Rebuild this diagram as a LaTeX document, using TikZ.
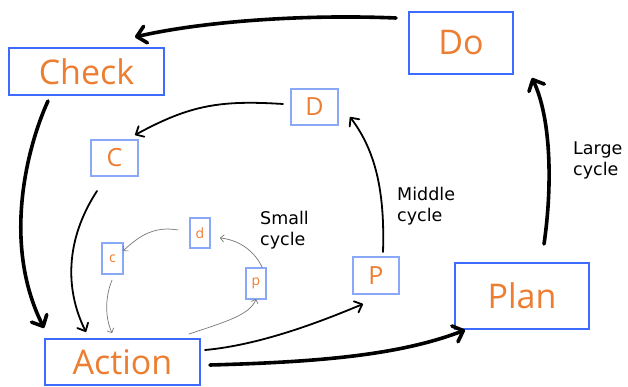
\documentclass[tikz,border=0pt]{standalone}
\usepackage{fontspec}
\setmainfont{DejaVu Sans}
\newfontfamily\boxfont{Open Sans}
\usetikzlibrary{arrows.meta}
\definecolor{txtorange}{RGB}{237,125,49}
\definecolor{bigblue}{RGB}{61,107,255}
\definecolor{midblue}{RGB}{138,168,248}
\definecolor{thingray}{RGB}{120,120,120}
\tikzset{
  bigbox/.style={draw=bigblue, line width=2.4pt, inner sep=0pt, text=txtorange, font=\boxfont\fontsize{34}{34}\selectfont},
  midbox/.style={draw=midblue, line width=2pt, inner sep=0pt, text=txtorange, font=\boxfont\fontsize{25}{25}\selectfont},
  smallbox/.style={draw=midblue, line width=1.2pt, inner sep=0pt, text=txtorange, font=\boxfont\fontsize{14}{14}\selectfont},
  bigarrow/.style={line width=3.6pt, line cap=round, -{Straight Barb[length=9pt,width=17pt,round]}},
  midarrow/.style={line width=1.8pt, line cap=round, -{Straight Barb[length=6.5pt,width=12pt,round]}},
  thinarrow/.style={line width=0.7pt, draw=thingray, line cap=round, -{Straight Barb[length=3.5pt,width=7pt,round]}},
  cyclelabel/.style={anchor=north west, inner sep=0pt, align=left, font=\fontsize{17.5}{21}\selectfont}
}
\begin{document}
\begin{tikzpicture}[x=1pt,y=-1pt]
\useasboundingbox[fill=white] (0,0) rectangle (628,387);
% large
\node[bigbox, minimum width=104pt, minimum height=62pt] (Do) at (461,43) {Do};
\node[bigbox, minimum width=155pt, minimum height=47pt] (Check) at (86.5,71.5) {Check};
\node[bigbox, minimum width=134pt, minimum height=66pt] (Plan) at (522,296) {Plan};
\node[bigbox, minimum width=155pt, minimum height=46pt] (Action) at (122.5,362) {Action};
% middle
\node[midbox, minimum width=47pt, minimum height=36pt] (D) at (314.5,107) {D};
\node[midbox, minimum width=47pt, minimum height=36pt] (C) at (114.5,158) {C};
\node[midbox, minimum width=46pt, minimum height=37pt] (P) at (376,275.5) {P};
% small
\node[smallbox, minimum width=20pt, minimum height=30pt] (d) at (200,233) {d};
\node[smallbox, minimum width=21pt, minimum height=31pt] (c) at (112.5,258.5) {c};
\node[smallbox, minimum width=20pt, minimum height=31pt] (p) at (256,283.5) {p};
% labels
\node[cyclelabel] (Llab) at (573,142) {Large\\cycle};
\node[cyclelabel] (Mlab) at (397,187) {Middle\\cycle};
\node[cyclelabel] (Slab) at (260,211) {Small\\cycle};
% large cycle
\draw[bigarrow] ([shift={(-65,-25)}]Do.center) .. controls (300,14) and (200,22) .. ([shift={(48.5,-34.5)}]Check.center);
\draw[bigarrow] ([shift={(-38.5,29.5)}]Check.center) .. controls (30,140) and (0,240) .. ([shift={(-78.5,-34)}]Action.center);
\draw[bigarrow] ([shift={(87.5,3)}]Action.center) .. controls (320,362) and (400,355) .. ([shift={(-57,34)}]Plan.center);
\draw[bigarrow] ([shift={(22,-52)}]Plan.center) .. controls (552,190) and (552,120) .. ([shift={(71,35)}]Do.center);
% middle cycle
\draw[midarrow] ([shift={(-31.5,-3)}]D.center) .. controls (220,100) and (190,105) .. ([shift={(20.5,-23)}]C.center);
\draw[midarrow] ([shift={(-17.5,33)}]C.center) .. controls (65,240) and (65,290) .. ([shift={(-36.5,-30)}]Action.center);
\draw[midarrow] ([shift={(82.5,-12)}]Action.center) .. controls (260,345) and (320,322) .. ([shift={(-13,28.5)}]P.center);
\draw[midarrow] ([shift={(7,-23.5)}]P.center) .. controls (385,190) and (375,150) .. ([shift={(35.5,10)}]D.center);
% small cycle
\draw[thinarrow] ([shift={(-22,-3)}]d.center) .. controls (155,226) and (140,235) .. ([shift={(10.5,-7.5)}]c.center);
\draw[thinarrow] ([shift={(-0.5,21.5)}]c.center) .. controls (104,300) and (106,320) .. ([shift={(-10.5,-29)}]Action.center);
\draw[thinarrow] ([shift={(66.5,-28)}]Action.center) .. controls (225,322) and (250,315) .. ([shift={(0,15.5)}]p.center);
\draw[thinarrow] ([shift={(6,-16.5)}]p.center) .. controls (255,252) and (240,240) .. ([shift={(20,5)}]d.center);
\end{tikzpicture}
\end{document}
